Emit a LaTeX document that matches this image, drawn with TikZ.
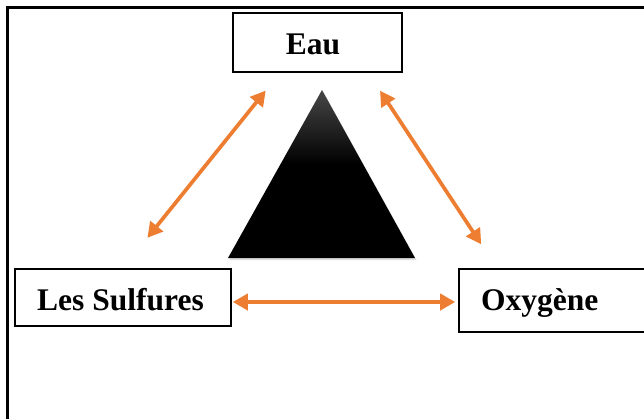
\documentclass[tikz,border=0pt]{standalone}
\usepackage{fontspec}
\setmainfont{Liberation Serif}
\usetikzlibrary{arrows.meta,calc,shadows}
\definecolor{arrorange}{HTML}{ED7D31}
\pgfdeclareverticalshading{trishade}{100bp}{color(0bp)=(black); color(25bp)=(black); color(53bp)=(black); color(75bp)=(black!72); color(100bp)=(black!72)}
\tikzset{
  box/.style={draw=black, line width=1.6pt, fill=white, rectangle, inner sep=0pt},
  lbl/.style={inner sep=0pt, font=\bfseries\fontsize{31.5}{36}\selectfont},
  link/.style={draw=arrorange, line width=3.7pt, {Triangle[length=15pt,width=16pt]}-{Triangle[length=15pt,width=16pt]}},
}
\begin{document}
\begin{tikzpicture}[x=1pt,y=-1pt]
\useasboundingbox (0,0) rectangle (644,418);
\clip (0,0) rectangle (644,418);
\fill[white] (0,0) rectangle (644,418);
% outer frame
\draw[line width=3pt] (7.5,7.5) rectangle (720,520);
% boxes
\node[box, minimum width=169pt, minimum height=59pt] (eau) at (317.5,42.5) {};
\node[box, minimum width=216pt, minimum height=57pt] (sulf) at (123,297.5) {};
\node[box, minimum width=220pt, minimum height=63pt] (oxy) at (569,300.5) {};
% labels
\node[lbl, anchor=base] (teau) at (313,54) {Eau};
\node[lbl, anchor=base] (tsulf) at (120.5,310) {Les Sulfures};
\node[lbl, anchor=base west] (toxy) at (481,310) {Oxygène};
% triangle
\shade[shading=trishade,
       drop shadow={opacity=0.25, shadow xshift=1.5pt, shadow yshift=-2pt}]
  (322,90) -- (415,258) -- (228,258) -- cycle;
% connectors
\coordinate (eL) at ($(eau.south)+(-37.5,0)$);
\coordinate (eR) at ($(eau.south)+(50.7,0)$);
\coordinate (oT) at ($(oxy.north west)+(38.8,0)$);
\draw[link, shorten <=39pt, shorten >=22.8pt] (sulf.north) -- (eL);
\draw[link, shorten <=21.5pt, shorten >=28.7pt] (eR) -- (oT);
\draw[link, shorten <=1pt, shorten >=3pt] ([yshift=-4.5pt]sulf.east) -- ([yshift=-1.5pt]oxy.west);
\end{tikzpicture}
\end{document}
